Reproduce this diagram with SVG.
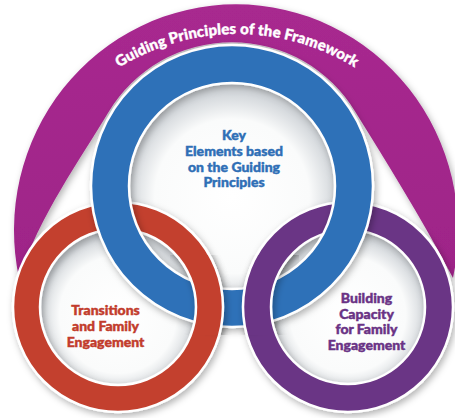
<svg xmlns="http://www.w3.org/2000/svg" width="455" height="418" viewBox="0 0 455 418">
  <defs>
    <style>
      .ring { stroke: #ffffff; stroke-width: 2.5; fill-rule: evenodd; }
      .lbl { font-family: Lato, "Open Sans", "Liberation Sans", sans-serif; font-weight: 900; font-size: 14px; text-anchor: middle; stroke-width: 0.45; }
      .arcLbl { font-family: Lato, "Open Sans", "Liberation Sans", sans-serif; font-weight: 900; font-size: 15px; fill: #ffffff; stroke: #ffffff; stroke-width: 0.4; }
    </style>
    <filter id="shadow" x="-20%" y="-20%" width="140%" height="140%">
      <feDropShadow dx="2" dy="3" stdDeviation="3.5" flood-color="#000000" flood-opacity="0.3"/>
    </filter>
    <radialGradient id="hole" cx="50%" cy="55%" r="50%">
      <stop offset="0" stop-color="#ffffff"/>
      <stop offset="0.75" stop-color="#fafbfb"/>
      <stop offset="1" stop-color="#d3d7db"/>
    </radialGradient>
    <linearGradient id="magGrad" x1="0" y1="0" x2="0" y2="1">
      <stop offset="0" stop-color="#a8298f"/>
      <stop offset="1" stop-color="#9e2488"/>
    </linearGradient>
    <clipPath id="clipRed"><rect x="170" y="255" width="66" height="80"/></clipPath>
    <clipPath id="clipPurple"><rect x="237" y="255" width="62" height="80"/></clipPath>
    <path id="arcText" d="M 78.6,99.6 A 224 224 0 0 1 395.4,99.6" fill="none"/>
  </defs>

  <rect width="455" height="418" fill="#ffffff"/>

  <g id="arch">
    <path d="M 19,278 A 222 226 0 1 1 453,278 C 420,215 385,160 355.4,112 A 144 144 0 0 0 108.6,112 C 80,160 40,215 19,278 Z" fill="url(#magGrad)" filter="url(#shadow)"/>
    <text class="arcLbl"><textPath href="#arcText" startOffset="50%" text-anchor="middle" textLength="248" lengthAdjust="spacing">Guiding Principles of the Framework</textPath></text>
  </g>

  <g id="holes">
    <circle cx="232" cy="186" r="103" fill="url(#hole)"/>
    <circle cx="118" cy="307" r="78" fill="url(#hole)"/>
    <circle cx="348" cy="307" r="77" fill="url(#hole)"/>
  </g>

  <g id="red-ring">
    <path class="ring" fill="#c3412f" filter="url(#shadow)" d="M 13,307 a 105 105 0 1 0 210 0 a 105 105 0 1 0 -210 0 Z M 40,307 a 78 78 0 1 0 156 0 a 78 78 0 1 0 -156 0 Z"/>
  </g>

  <g id="purple-ring">
    <path class="ring" fill="#6b3685" filter="url(#shadow)" d="M 243,307 a 105 105 0 1 0 210 0 a 105 105 0 1 0 -210 0 Z M 271,307 a 77 77 0 1 0 154 0 a 77 77 0 1 0 -154 0 Z"/>
  </g>

  <g id="blue-ring">
    <path class="ring" fill="#2f71b8" filter="url(#shadow)" d="M 91,186 a 141 141 0 1 0 282 0 a 141 141 0 1 0 -282 0 Z M 129,186 a 103 103 0 1 0 206 0 a 103 103 0 1 0 -206 0 Z"/>
  </g>

  <g id="overlaps">
    <g clip-path="url(#clipRed)">
      <path class="ring" fill="#c3412f" filter="url(#shadow)" d="M 13,307 a 105 105 0 1 0 210 0 a 105 105 0 1 0 -210 0 Z M 40,307 a 78 78 0 1 0 156 0 a 78 78 0 1 0 -156 0 Z"/>
    </g>
    <g clip-path="url(#clipPurple)">
      <path class="ring" fill="#6b3685" filter="url(#shadow)" d="M 243,307 a 105 105 0 1 0 210 0 a 105 105 0 1 0 -210 0 Z M 271,307 a 77 77 0 1 0 154 0 a 77 77 0 1 0 -154 0 Z"/>
    </g>
  </g>

  <g id="connectors"/>

  <g id="blue-label" fill="#2f6fb6" stroke="#2f6fb6">
    <text class="lbl" x="234" y="139.5">Key</text>
    <text class="lbl" x="234" y="155.5">Elements based</text>
    <text class="lbl" x="234" y="171.5">on the Guiding</text>
    <text class="lbl" x="234" y="187">Principles</text>
  </g>

  <g id="red-label" fill="#c23c2c" stroke="#c23c2c">
    <text class="lbl" x="105.5" y="315">Transitions</text>
    <text class="lbl" x="105.5" y="331">and Family</text>
    <text class="lbl" x="105.5" y="347">Engagement</text>
  </g>

  <g id="purple-label" fill="#6a3385" stroke="#6a3385">
    <text class="lbl" x="366.5" y="302.5">Building</text>
    <text class="lbl" x="366.5" y="318.5">Capacity</text>
    <text class="lbl" x="366.5" y="334">for Family</text>
    <text class="lbl" x="366.5" y="349.5">Engagement</text>
  </g>
</svg>
